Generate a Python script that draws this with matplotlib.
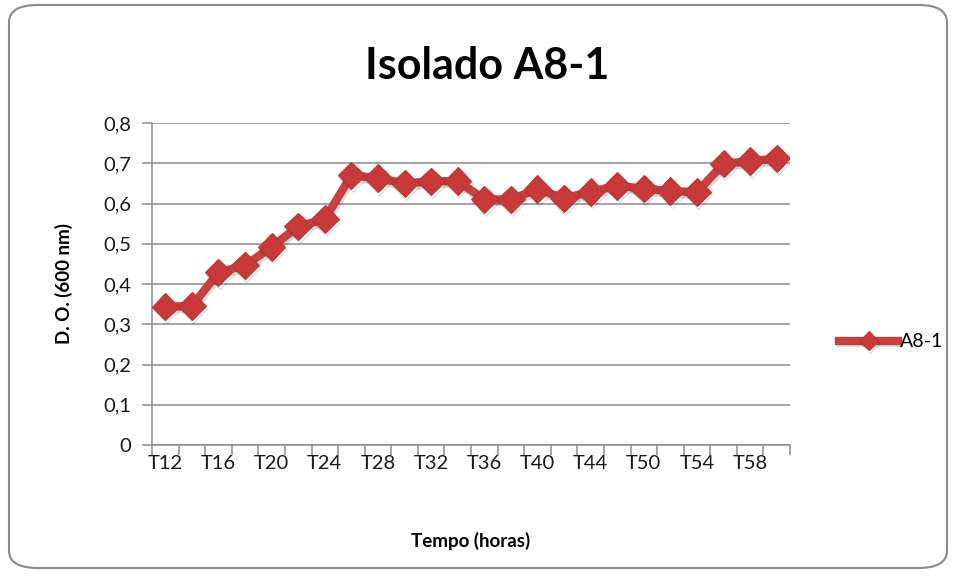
import matplotlib
matplotlib.use("Agg")
import matplotlib.pyplot as plt
import matplotlib.patheffects as pe
from matplotlib.patches import FancyBboxPatch

# values
labels = ["T12", "T14", "T16", "T18", "T20", "T22", "T24", "T26", "T28", "T30",
          "T32", "T34", "T36", "T38", "T40", "T42", "T44", "T46", "T50", "T52",
          "T54", "T56", "T58", "T60"]
do600 = [0.344, 0.345, 0.429, 0.446, 0.492, 0.543, 0.561, 0.670, 0.663, 0.650,
         0.655, 0.656, 0.610, 0.610, 0.636, 0.613, 0.629, 0.644, 0.637, 0.631,
         0.628, 0.699, 0.705, 0.712]
yticks = [0, 0.1, 0.2, 0.3, 0.4, 0.5, 0.6, 0.7, 0.8]

plt.rcParams['font.family'] = ['Lato', 'DejaVu Sans']
red = '#C74141'
grid = '#8C8C8C'

W, H = 956, 580
fig = plt.figure(figsize=(W / 100, H / 100), dpi=100)

# rounded chart border
border = FancyBboxPatch((9 / W, 12 / H), 938 / W, 563 / H,
                        boxstyle="round,pad=0,rounding_size=0.03",
                        transform=fig.transFigure, facecolor='none',
                        edgecolor='#8A8A8A', linewidth=1.5, zorder=-1)
fig.patches.append(border)

ax = fig.add_axes([152 / W, (H - 445) / H, 638 / W, 322 / H])
ax.set_facecolor('none')

x = list(range(len(labels)))
ax.plot(x, do600, color=red, linewidth=6, marker='D', markersize=14,
        markerfacecolor='#C83A3A', markeredgecolor='#B73535', markeredgewidth=0.8,
        label='A8-1', zorder=3,
        path_effects=[pe.SimpleLineShadow(offset=(1, -2), shadow_color='black', alpha=0.15),
                      pe.Normal()])

ax.set_xlim(-0.5, len(labels) - 0.5)
ax.set_ylim(0, 0.8)
ax.set_yticks(yticks)
ax.set_yticklabels([f"{v:g}".replace('.', ',') for v in yticks], fontsize=14.5, color='#1a1a1a')
ax.yaxis.grid(True, color=grid, linewidth=1.1)
ax.set_axisbelow(True)

# category boundaries as tick marks, labels on every other category
ax.set_xticks([i - 0.5 for i in range(len(labels) + 1)])
ax.set_xticklabels([])
ax.set_xticks(x[::2], minor=True)
ax.set_xticklabels(labels[::2], minor=True, fontsize=14.5, color='#1a1a1a')
ax.tick_params(axis='x', which='minor', length=0, pad=7)
ax.tick_params(axis='x', which='major', length=7, color=grid, width=1.1)
ax.tick_params(axis='y', length=7, color=grid, width=1.1, pad=8)

for s in ['top', 'right']:
    ax.spines[s].set_visible(False)
for s in ['left', 'bottom']:
    ax.spines[s].set_color(grid)
    ax.spines[s].set_linewidth(1.1)

ax.set_ylabel('D. O. (600 nm)', fontsize=13.5, fontweight='bold', labelpad=22)
ax.set_xlabel('Tempo (horas)', fontsize=13.5, fontweight='bold', labelpad=43)

fig.text(487 / W, 1 - 66 / H, 'Isolado A8-1', fontsize=31, fontweight='bold',
         ha='center', va='center')

leg = ax.legend(loc='center left', bbox_to_anchor=(1.05, 0.32), frameon=False,
                fontsize=14, handlelength=3, handletextpad=0.1, markerscale=0.7)

fig.savefig('out.png', dpi=100)
